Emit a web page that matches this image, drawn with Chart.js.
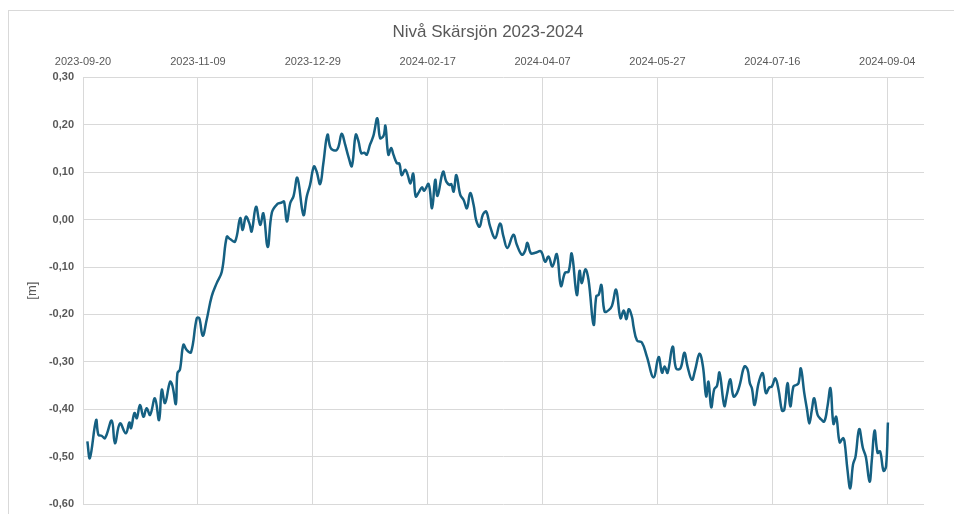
<!DOCTYPE html>
<html lang="sv">
<head>
  <meta charset="UTF-8" />
  <title>Nivå Skärsjön 2023-2024</title>
  <script src="https://cdn.jsdelivr.net/npm/chart.js"></script>
  <style>
    body {
      margin: 0;
      background: #fff;
      overflow: hidden;
    }
    .ram {
      position: absolute;
      left: 8px;
      top: 10px;
      width: 958px;
      height: 518px;
      border: 1px solid #d9d9d9;
    }
  </style>
</head>
<body>

<div class="ram">
  <canvas id="nivaGraf" width="958" height="518"></canvas>
</div>

<script>
  // dagar räknat från 2023-09-20
  const dagar = [
    1.9, 3.0, 5.7, 6.7, 8.1, 9.6, 12.5, 13.9, 16.1, 18.6, 20.2, 20.9, 22.4, 23.4, 24.8, 26.3,
    27.7, 29.2, 31.3, 33.1, 34.3, 35.7, 37.9, 39.0, 40.4, 41.1, 42.2, 43.7, 45.1, 47.0, 49.5, 50.6,
    52.1, 53.8, 56.0, 58.2, 60.4, 62.6, 64.0, 66.2, 68.4, 69.5, 70.9, 72.4, 73.4, 75.3, 77.1, 78.5,
    80.4, 82.2, 84.6, 86.5, 87.5, 88.7, 90.2, 91.6, 93.3, 95.9, 97.4, 98.8, 100.5, 101.7, 103.2, 104.6,
    106.4, 107.8, 110.1, 111.2, 112.6, 114.1, 115.5, 117.0, 118.7, 119.9, 121.1, 122.4, 123.5, 124.9, 126.4, 128.1,
    129.3, 130.8, 131.6, 132.9, 134.1, 135.1, 136.6, 137.7, 138.7, 140.2, 141.2, 142.5, 143.7, 144.8, 146.2, 147.5,
    148.5, 150.4, 151.9, 153.3, 154.3, 156.7, 158.1, 159.6, 160.3, 161.3, 162.5, 164.2, 165.6, 167.1, 168.5, 170.0,
    171.1, 172.6, 174.0, 175.5, 177.2, 179.4, 181.5, 183.0, 184.7, 187.3, 188.8, 191.0, 192.4, 193.4, 194.9, 196.8,
    199.3, 201.1, 202.6, 204.3, 206.2, 208.0, 209.8, 211.3, 212.7, 214.9, 216.1, 217.1, 218.6, 220.0, 222.2, 223.4,
    224.4, 225.6, 227.0, 228.8, 230.2, 232.0, 233.9, 235.3, 236.5, 237.5, 238.9, 239.6, 241.1, 243.2, 245.4, 248.3,
    250.5, 252.0, 253.1, 254.4, 256.6, 258.1, 260.0, 261.7, 263.1, 265.0, 266.4, 268.3, 269.8, 271.2, 272.2, 273.4,
    274.7, 275.9, 277.0, 279.1, 280.2, 281.7, 283.1, 284.6, 286.0, 287.8, 289.2, 290.2, 291.1, 292.3, 294.0, 295.8,
    297.2, 298.7, 299.8, 301.3, 302.7, 304.2, 305.2, 306.6, 307.8, 309.2, 310.4, 311.4, 312.4, 313.9, 315.1, 316.1,
    317.2, 318.2, 319.7, 321.1, 322.6, 324.0, 325.3, 326.6, 327.8, 329.3, 330.7, 331.4, 332.7, 333.9, 335.1, 336.2,
    337.8, 339.4, 340.7, 342.3, 343.3, 344.5, 345.8, 346.9, 348.4, 349.5, 350.3
  ];

  // nivå [m]
  const niva = [
    -0.468, -0.503, -0.423, -0.454, -0.456, -0.461, -0.424, -0.472, -0.430, -0.451, -0.428, -0.440, -0.408, -0.419, -0.391, -0.416,
    -0.398, -0.412, -0.377, -0.423, -0.359, -0.387, -0.342, -0.352, -0.389, -0.324, -0.316, -0.264, -0.275, -0.280, -0.208, -0.208,
    -0.245, -0.212, -0.162, -0.134, -0.110, -0.036, -0.041, -0.046, 0.003, -0.022, 0.006, -0.008, -0.025, 0.027, -0.011, 0.013,
    -0.058, 0.015, 0.033, 0.036, 0.038, -0.004, 0.035, 0.049, 0.088, 0.010, 0.049, 0.073, 0.112, 0.101, 0.075, 0.119,
    0.179, 0.151, 0.146, 0.154, 0.181, 0.158, 0.133, 0.113, 0.179, 0.165, 0.140, 0.141, 0.137, 0.158, 0.177, 0.214,
    0.172, 0.177, 0.198, 0.137, 0.151, 0.137, 0.119, 0.118, 0.094, 0.105, 0.096, 0.076, 0.097, 0.049, 0.058, 0.068,
    0.061, 0.075, 0.024, 0.084, 0.050, 0.101, 0.080, 0.073, 0.075, 0.059, 0.094, 0.052, 0.042, 0.024, 0.056, 0.031,
    -0.001, -0.015, 0.010, 0.017, -0.015, -0.039, -0.008, -0.036, -0.060, -0.032, -0.053, -0.074, -0.066, -0.049, -0.071, -0.070,
    -0.067, -0.089, -0.078, -0.099, -0.073, -0.140, -0.112, -0.110, -0.072, -0.159, -0.108, -0.134, -0.105, -0.127, -0.222, -0.161,
    -0.159, -0.138, -0.194, -0.191, -0.182, -0.148, -0.208, -0.192, -0.210, -0.189, -0.205, -0.226, -0.255, -0.259, -0.289, -0.333,
    -0.290, -0.323, -0.310, -0.323, -0.268, -0.314, -0.314, -0.281, -0.310, -0.338, -0.317, -0.283, -0.310, -0.373, -0.342, -0.396,
    -0.358, -0.351, -0.323, -0.393, -0.370, -0.337, -0.373, -0.366, -0.345, -0.310, -0.316, -0.345, -0.356, -0.391, -0.345, -0.324,
    -0.366, -0.354, -0.352, -0.335, -0.359, -0.403, -0.401, -0.345, -0.394, -0.352, -0.349, -0.345, -0.314, -0.366, -0.401, -0.430,
    -0.401, -0.377, -0.412, -0.421, -0.426, -0.394, -0.356, -0.431, -0.416, -0.470, -0.461, -0.468, -0.528, -0.567, -0.517, -0.500,
    -0.442, -0.482, -0.501, -0.553, -0.507, -0.445, -0.492, -0.489, -0.530, -0.520, -0.428
  ];

  const datumEtiketter = ['2023-09-20', '2023-11-09', '2023-12-29', '2024-02-17', '2024-04-07', '2024-05-27', '2024-07-16', '2024-09-04'];

  Chart.defaults.font.family = "'Liberation Sans', Arial, sans-serif";

  const ctx = document.getElementById('nivaGraf').getContext('2d');
  new Chart(ctx, {
    type: 'line',
    data: {
      datasets: [{
        data: dagar.map((d, i) => ({ x: d, y: niva[i] })),
        borderColor: '#156082',
        borderWidth: 2.5,
        pointRadius: 0,
        tension: 0.4,
        fill: false
      }]
    },
    options: {
      responsive: false,
      animation: false,
      layout: { padding: { left: 0, right: 0, top: 0, bottom: 25 } },
      plugins: {
        legend: { display: false },
        tooltip: { enabled: false },
        title: {
          display: true,
          text: 'Nivå Skärsjön 2023-2024',
          color: '#595959',
          font: { size: 17, weight: 'normal' },
          padding: { top: 11, bottom: 5 }
        }
      },
      scales: {
        x: {
          type: 'linear',
          position: 'top',
          min: 0,
          max: 366,
          afterBuildTicks: s => { s.ticks = s.ticks.filter(t => t.value % 50 === 0 && t.value <= 350); },
          afterFit: s => { s.height = 30; },
          ticks: {
            stepSize: 50,
            autoSkip: false,
            maxRotation: 0,
            padding: 9,
            color: '#595959',
            font: { size: 11 },
            callback: v => datumEtiketter[v / 50]
          },
          grid: { color: '#d9d9d9', drawTicks: false },
          border: { display: false }
        },
        y: {
          min: -0.6,
          max: 0.3,
          afterFit: s => { s.width = 74; },
          ticks: {
            stepSize: 0.1,
            padding: 9,
            color: '#595959',
            font: { size: 11, weight: 'bold' },
            callback: v => v.toFixed(2).replace('.', ',')
          },
          grid: { color: '#d9d9d9', drawTicks: false },
          border: { display: false },
          title: { display: true, text: '[m]', color: '#595959', font: { size: 13 }, padding: { top: 16, bottom: 0 } }
        },
        // tom högeraxel som bara håller marginalen, så titeln centreras i hela ramen
        hoger: {
          position: 'right',
          display: true,
          afterFit: s => { s.width = 43; },
          ticks: { display: false },
          grid: { display: false },
          border: { display: false }
        }
      }
    }
  });
</script>

</body>
</html>
